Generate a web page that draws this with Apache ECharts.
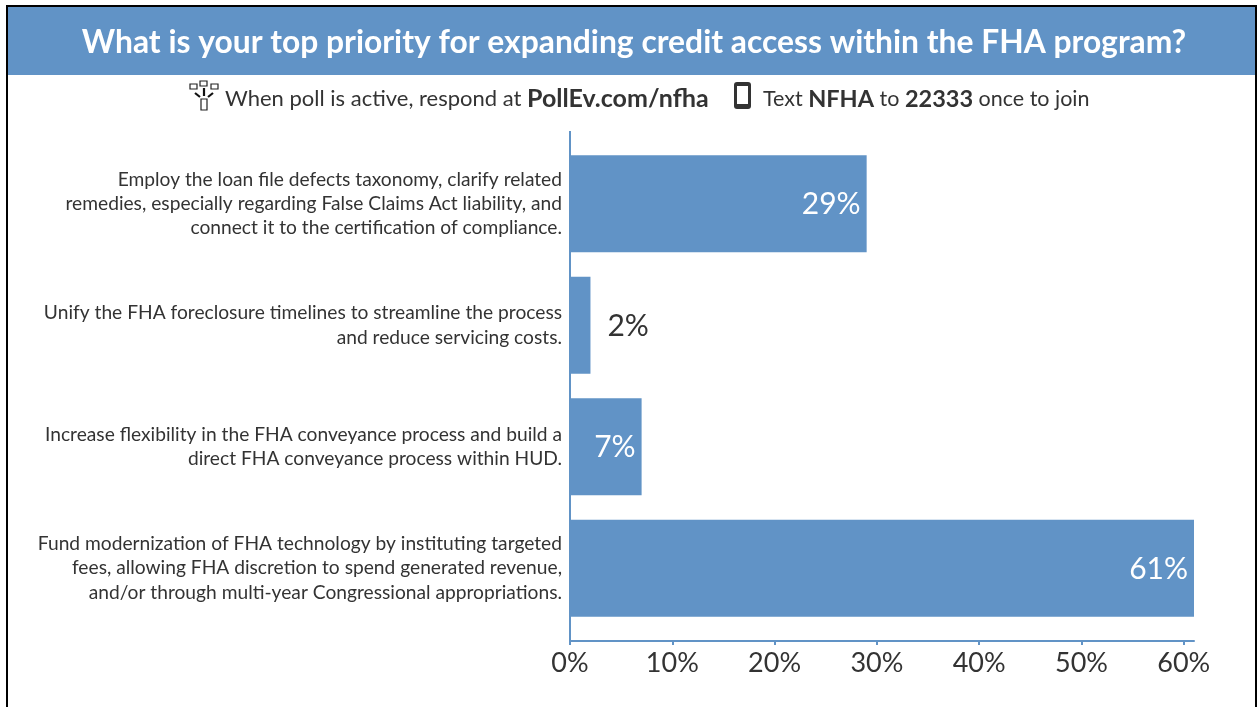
<!DOCTYPE html>
<html>
<head>
<meta charset="utf-8">
<style>html,body{margin:0;padding:0;background:#fff}#chart{width:1257px;height:707px}</style>
<script src="https://cdn.jsdelivr.net/npm/echarts@6/dist/echarts.min.js"></script>
</head>
<body>
<div id="chart"></div>
<script>
const titleText = 'What is your top priority for expanding credit access within the FHA program?';
const categories = [
  'Employ the loan file defects taxonomy, clarify related\nremedies, especially regarding False Claims Act liability, and\nconnect it to the certification of compliance.',
  'Unify the FHA foreclosure timelines to streamline the process\nand reduce servicing costs.',
  'Increase flexibility in the FHA conveyance process and build a\ndirect FHA conveyance process within HUD.',
  'Fund modernization of FHA technology by instituting targeted\nfees, allowing FHA discretion to spend generated revenue,\nand/or through multi-year Congressional appropriations.'
];
const shares = [29, 2, 7, 61];
const tickValues = [0, 10, 20, 30, 40, 50, 60];

const BLUE = '#6193c6';
const INK = '#333333';
const FONT = 'Lato, "Noto Sans", sans-serif';

const chart = echarts.init(document.getElementById('chart'), null, {renderer: 'canvas'});

const barData = shares.map(v => ({
  value: v,
  label: v < 5
    ? {position: 'right', distance: 17, color: INK}
    : {position: 'insideRight', distance: 6, color: '#ffffff'}
}));

// small "responses fan out from a phone" glyph beside the poll instructions
function pollIcon(x, y) {
  const stroke = {stroke: '#222', lineWidth: 1.2, fill: 'none'};
  const box = (bx, by) => ({type: 'rect', shape: {x: x + bx, y: y + by, width: 7, height: 5}, style: stroke});
  const seg = (a, b, c, d) => ({type: 'line', shape: {x1: x + a, y1: y + b, x2: x + c, y2: y + d}, style: {stroke: '#111', lineWidth: 2.2}});
  return [
    box(0, 3), box(10, 0), box(21, 3),
    seg(14, 7, 14, 15), seg(5, 12, 10, 16), seg(23, 12, 18, 16),
    {type: 'rect', shape: {x: x + 11, y: y + 18, width: 6, height: 11}, style: stroke}
  ];
}

chart.setOption({
  animation: false,
  backgroundColor: '#ffffff',
  title: {
    text: titleText,
    left: 629, top: 22, textAlign: 'center',
    textStyle: {color: '#fff', fontFamily: FONT, fontWeight: 700, fontSize: 31.8}
  },
  grid: {left: 570, top: 143, width: 624, height: 486, containLabel: false},
  xAxis: {
    type: 'value', min: 0, max: 61, interval: 10, offset: 12,
    splitLine: {show: false},
    axisLine: {show: true, lineStyle: {color: BLUE, width: 2}},
    axisTick: {show: true, length: 4, lineStyle: {color: BLUE, width: 2}, customValues: tickValues},
    axisLabel: {
      customValues: tickValues,
      formatter: '{value}%', color: INK, fontFamily: FONT, fontSize: 27, margin: 9
    }
  },
  yAxis: {
    type: 'category', inverse: true, data: categories,
    axisLine: {show: false}, axisTick: {show: false},
    axisLabel: {color: INK, fontFamily: FONT, fontSize: 19.2, lineHeight: 24.3, align: 'right', margin: 8, padding: [0, 0, 8, 0]}
  },
  series: [{
    type: 'bar', data: barData, barWidth: 97,
    itemStyle: {color: BLUE},
    label: {show: true, formatter: '{c}%', fontFamily: FONT, fontSize: 30, offset: [0, 1]}
  }],
  graphic: [
    {type: 'rect', z: -1, shape: {x: 7, y: 6, width: 1249, height: 69}, style: {fill: BLUE}},
    {type: 'line', shape: {x1: 7, y1: 5, x2: 7, y2: 707}, style: {stroke: '#000', lineWidth: 2}, silent: true},
    {type: 'line', shape: {x1: 6, y1: 6, x2: 1257, y2: 6}, style: {stroke: '#000', lineWidth: 2}, silent: true},
    {type: 'line', shape: {x1: 1256, y1: 5, x2: 1256, y2: 707}, style: {stroke: '#000', lineWidth: 2}, silent: true},
    {type: 'line', shape: {x1: 570, y1: 131, x2: 570, y2: 641}, style: {stroke: BLUE, lineWidth: 2}, silent: true},
    {type: 'group', children: pollIcon(190, 81)},
    {
      type: 'text', x: 225, y: 99,
      style: {
        text: 'When poll is active, respond at {b|PollEv.com/nfha}',
        fontFamily: FONT, fontSize: 22, fill: INK, verticalAlign: 'middle',
        rich: {b: {fontFamily: FONT, fontWeight: 700, fontSize: 25, fill: INK}}
      }
    },
    {type: 'rect', shape: {x: 734, y: 82, width: 17, height: 27, r: 3}, style: {fill: '#333'}},
    {type: 'rect', shape: {x: 737, y: 86, width: 11, height: 18}, style: {fill: '#fff'}},
    {
      type: 'text', x: 763, y: 99,
      style: {
        text: 'Text {b|NFHA} to {b|22333} once to join',
        fontFamily: FONT, fontSize: 21.5, fill: INK, verticalAlign: 'middle',
        rich: {b: {fontFamily: FONT, fontWeight: 700, fontSize: 23.5, fill: INK}}
      }
    }
  ]
});
</script>
</body>
</html>
